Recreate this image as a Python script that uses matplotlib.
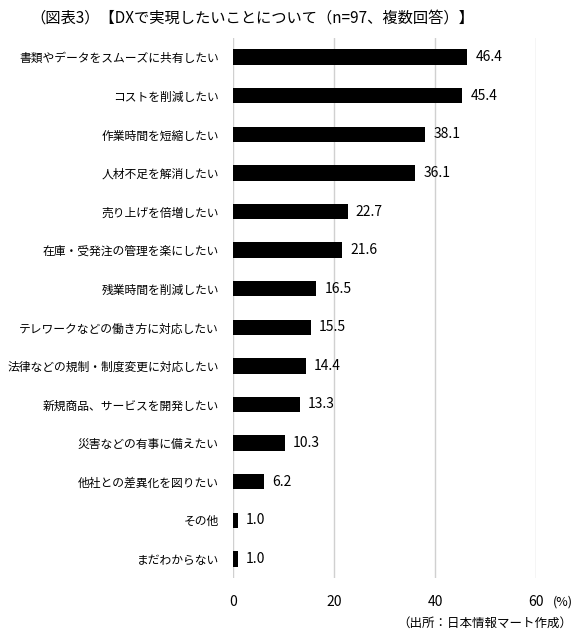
import matplotlib
matplotlib.use("Agg")
import matplotlib.pyplot as plt

plt.rcParams['font.family'] = ['Noto Sans CJK JP', 'DejaVu Sans']

# データ
categories = [
    "書類やデータをスムーズに共有したい",
    "コストを削減したい",
    "作業時間を短縮したい",
    "人材不足を解消したい",
    "売り上げを倍増したい",
    "在庫・受発注の管理を楽にしたい",
    "残業時間を削減したい",
    "テレワークなどの働き方に対応したい",
    "法律などの規制・制度変更に対応したい",
    "新規商品、サービスを開発したい",
    "災害などの有事に備えたい",
    "他社との差異化を図りたい",
    "その他",
    "まだわからない",
]
values = [46.4, 45.4, 38.1, 36.1, 22.7, 21.6, 16.5, 15.5, 14.4, 13.3, 10.3, 6.2, 1.0, 1.0]
x_ticks = [0, 20, 40, 60]

fig = plt.figure(figsize=(5.82, 6.41), dpi=100)
ax = fig.add_axes([0.400, 0.098, 0.521, 0.843])

y = list(range(len(categories)))
ax.barh(y, values, height=0.4, color='black', zorder=3)

for yi, v in zip(y, values):
    ax.text(v + 1.6, yi, f"{v:.1f}", va='center', ha='left', fontsize=10)

ax.set_xlim(0, 60)
ax.set_ylim(len(categories) - 0.5, -0.5)
ax.set_xticks(x_ticks)
ax.set_yticks(y)
ax.set_yticklabels(categories, fontsize=8.5)
ax.tick_params(axis='x', length=0, pad=12, labelsize=10)
ax.tick_params(axis='y', length=0, pad=10)
ax.grid(axis='x', color='#d0d0d0', linewidth=1, zorder=0)
for s in ax.spines.values():
    s.set_visible(False)

fig.text(0.433, 0.972, "（図表3）【DXで実現したいことについて（n=97、複数回答）】",
         ha='center', va='center', fontsize=11)
fig.text(0.967, 0.061, "(%)", ha='center', va='center', fontsize=9)
fig.text(0.983, 0.027, "（出所：日本情報マート作成）", ha='right', va='center', fontsize=9)

fig.savefig("out.png", dpi=100)
